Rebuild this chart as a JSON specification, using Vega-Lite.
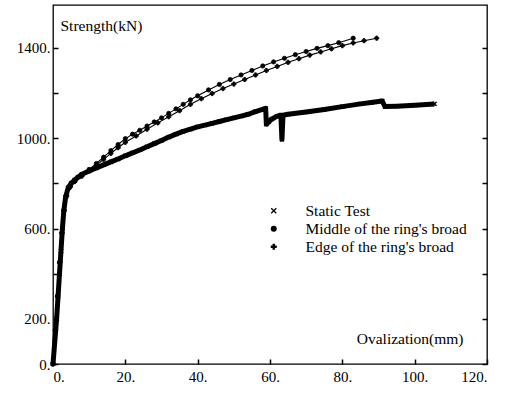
{
  "$schema": "https://vega.github.io/schema/vega-lite/v6.json",
  "autosize": {"type": "none"},
  "padding": {"left": 53, "top": 5, "right": 20, "bottom": 32},
  "width": 434,
  "height": 359,
  "background": "white",
  "config": {
    "font": "Liberation Serif",
    "view": {"stroke": "black", "strokeWidth": 1.3},
    "axis": {"grid": false, "domain": false, "labelFont": "Liberation Serif", "titleFont": "Liberation Serif", "labelColor": "black", "titleColor": "black", "tickColor": "black", "tickWidth": 1.5, "labelFontSize": 15, "titleFontSize": 15.5, "titleFontWeight": "normal"},
    "legend": {"labelFont": "Liberation Serif", "labelFontSize": 15.5, "labelColor": "black", "labelLimit": 0}
  },
  "datasets": {
    "curves": [
      {"series": "Static Test", "x": 0, "y": 0},
      {"series": "Static Test", "x": 0.5, "y": 100},
      {"series": "Static Test", "x": 1.0, "y": 200},
      {"series": "Static Test", "x": 1.4, "y": 300},
      {"series": "Static Test", "x": 1.8, "y": 400},
      {"series": "Static Test", "x": 2.2, "y": 500},
      {"series": "Static Test", "x": 2.6, "y": 600},
      {"series": "Static Test", "x": 3.0, "y": 680},
      {"series": "Static Test", "x": 3.5, "y": 740},
      {"series": "Static Test", "x": 4.2, "y": 780},
      {"series": "Static Test", "x": 5, "y": 800},
      {"series": "Static Test", "x": 6, "y": 815},
      {"series": "Static Test", "x": 7, "y": 828},
      {"series": "Static Test", "x": 8, "y": 840},
      {"series": "Static Test", "x": 10, "y": 855},
      {"series": "Static Test", "x": 12, "y": 868},
      {"series": "Static Test", "x": 14, "y": 882},
      {"series": "Static Test", "x": 16, "y": 895},
      {"series": "Static Test", "x": 18, "y": 908},
      {"series": "Static Test", "x": 20, "y": 922},
      {"series": "Static Test", "x": 22, "y": 935},
      {"series": "Static Test", "x": 24, "y": 948},
      {"series": "Static Test", "x": 26, "y": 962},
      {"series": "Static Test", "x": 28, "y": 976},
      {"series": "Static Test", "x": 30, "y": 990},
      {"series": "Static Test", "x": 32, "y": 1005},
      {"series": "Static Test", "x": 34, "y": 1018},
      {"series": "Static Test", "x": 36, "y": 1030},
      {"series": "Static Test", "x": 38, "y": 1040},
      {"series": "Static Test", "x": 40, "y": 1050},
      {"series": "Static Test", "x": 42, "y": 1058},
      {"series": "Static Test", "x": 44, "y": 1066},
      {"series": "Static Test", "x": 46, "y": 1074},
      {"series": "Static Test", "x": 48, "y": 1082},
      {"series": "Static Test", "x": 50, "y": 1090},
      {"series": "Static Test", "x": 52, "y": 1098},
      {"series": "Static Test", "x": 54, "y": 1106},
      {"series": "Static Test", "x": 56, "y": 1118},
      {"series": "Static Test", "x": 58.8, "y": 1132},
      {"series": "Static Test", "x": 59, "y": 1062},
      {"series": "Static Test", "x": 59.6, "y": 1072},
      {"series": "Static Test", "x": 60.5, "y": 1085},
      {"series": "Static Test", "x": 62, "y": 1098},
      {"series": "Static Test", "x": 63, "y": 1102},
      {"series": "Static Test", "x": 63.3, "y": 995},
      {"series": "Static Test", "x": 63.6, "y": 1102},
      {"series": "Static Test", "x": 65, "y": 1106},
      {"series": "Static Test", "x": 70, "y": 1116},
      {"series": "Static Test", "x": 75, "y": 1127},
      {"series": "Static Test", "x": 80, "y": 1140},
      {"series": "Static Test", "x": 85, "y": 1152},
      {"series": "Static Test", "x": 88, "y": 1158},
      {"series": "Static Test", "x": 91, "y": 1165},
      {"series": "Static Test", "x": 91.8, "y": 1140},
      {"series": "Static Test", "x": 95, "y": 1142},
      {"series": "Static Test", "x": 100, "y": 1146},
      {"series": "Static Test", "x": 105.5, "y": 1152},
      {"series": "Middle of the ring's broad", "x": 0, "y": 0},
      {"series": "Middle of the ring's broad", "x": 0.6, "y": 150},
      {"series": "Middle of the ring's broad", "x": 1.2, "y": 300},
      {"series": "Middle of the ring's broad", "x": 1.8, "y": 450},
      {"series": "Middle of the ring's broad", "x": 2.4, "y": 580},
      {"series": "Middle of the ring's broad", "x": 3.0, "y": 680},
      {"series": "Middle of the ring's broad", "x": 3.6, "y": 740},
      {"series": "Middle of the ring's broad", "x": 4.5, "y": 780},
      {"series": "Middle of the ring's broad", "x": 6, "y": 810},
      {"series": "Middle of the ring's broad", "x": 8, "y": 838},
      {"series": "Middle of the ring's broad", "x": 10, "y": 862},
      {"series": "Middle of the ring's broad", "x": 12, "y": 888},
      {"series": "Middle of the ring's broad", "x": 14, "y": 916},
      {"series": "Middle of the ring's broad", "x": 16, "y": 945},
      {"series": "Middle of the ring's broad", "x": 18, "y": 972},
      {"series": "Middle of the ring's broad", "x": 20, "y": 998},
      {"series": "Middle of the ring's broad", "x": 22, "y": 1018},
      {"series": "Middle of the ring's broad", "x": 24, "y": 1035},
      {"series": "Middle of the ring's broad", "x": 26, "y": 1054},
      {"series": "Middle of the ring's broad", "x": 28, "y": 1072},
      {"series": "Middle of the ring's broad", "x": 30, "y": 1090},
      {"series": "Middle of the ring's broad", "x": 32, "y": 1110},
      {"series": "Middle of the ring's broad", "x": 34, "y": 1130},
      {"series": "Middle of the ring's broad", "x": 36, "y": 1150},
      {"series": "Middle of the ring's broad", "x": 38, "y": 1170},
      {"series": "Middle of the ring's broad", "x": 40, "y": 1188},
      {"series": "Middle of the ring's broad", "x": 43, "y": 1214},
      {"series": "Middle of the ring's broad", "x": 46, "y": 1238},
      {"series": "Middle of the ring's broad", "x": 49, "y": 1260},
      {"series": "Middle of the ring's broad", "x": 52, "y": 1280},
      {"series": "Middle of the ring's broad", "x": 55, "y": 1300},
      {"series": "Middle of the ring's broad", "x": 58, "y": 1320},
      {"series": "Middle of the ring's broad", "x": 61, "y": 1338},
      {"series": "Middle of the ring's broad", "x": 64, "y": 1354},
      {"series": "Middle of the ring's broad", "x": 67, "y": 1370},
      {"series": "Middle of the ring's broad", "x": 70, "y": 1384},
      {"series": "Middle of the ring's broad", "x": 73, "y": 1398},
      {"series": "Middle of the ring's broad", "x": 76, "y": 1410},
      {"series": "Middle of the ring's broad", "x": 79, "y": 1423},
      {"series": "Middle of the ring's broad", "x": 83, "y": 1443},
      {"series": "Edge of the ring's broad", "x": 0, "y": 0},
      {"series": "Edge of the ring's broad", "x": 0.7, "y": 150},
      {"series": "Edge of the ring's broad", "x": 1.3, "y": 300},
      {"series": "Edge of the ring's broad", "x": 1.9, "y": 450},
      {"series": "Edge of the ring's broad", "x": 2.5, "y": 580},
      {"series": "Edge of the ring's broad", "x": 3.1, "y": 680},
      {"series": "Edge of the ring's broad", "x": 3.8, "y": 745},
      {"series": "Edge of the ring's broad", "x": 4.8, "y": 785},
      {"series": "Edge of the ring's broad", "x": 6, "y": 808},
      {"series": "Edge of the ring's broad", "x": 8, "y": 832},
      {"series": "Edge of the ring's broad", "x": 10, "y": 855},
      {"series": "Edge of the ring's broad", "x": 12, "y": 880},
      {"series": "Edge of the ring's broad", "x": 14, "y": 906},
      {"series": "Edge of the ring's broad", "x": 16, "y": 933},
      {"series": "Edge of the ring's broad", "x": 18, "y": 958},
      {"series": "Edge of the ring's broad", "x": 20, "y": 982},
      {"series": "Edge of the ring's broad", "x": 23, "y": 1010},
      {"series": "Edge of the ring's broad", "x": 26, "y": 1040},
      {"series": "Edge of the ring's broad", "x": 29, "y": 1068},
      {"series": "Edge of the ring's broad", "x": 32, "y": 1095},
      {"series": "Edge of the ring's broad", "x": 35, "y": 1122},
      {"series": "Edge of the ring's broad", "x": 38, "y": 1150},
      {"series": "Edge of the ring's broad", "x": 41, "y": 1175},
      {"series": "Edge of the ring's broad", "x": 44, "y": 1198},
      {"series": "Edge of the ring's broad", "x": 47, "y": 1220},
      {"series": "Edge of the ring's broad", "x": 50, "y": 1240},
      {"series": "Edge of the ring's broad", "x": 53, "y": 1260},
      {"series": "Edge of the ring's broad", "x": 56, "y": 1280},
      {"series": "Edge of the ring's broad", "x": 59, "y": 1300},
      {"series": "Edge of the ring's broad", "x": 62, "y": 1318},
      {"series": "Edge of the ring's broad", "x": 65, "y": 1336},
      {"series": "Edge of the ring's broad", "x": 68, "y": 1352},
      {"series": "Edge of the ring's broad", "x": 71, "y": 1368},
      {"series": "Edge of the ring's broad", "x": 74, "y": 1382},
      {"series": "Edge of the ring's broad", "x": 77, "y": 1396},
      {"series": "Edge of the ring's broad", "x": 80, "y": 1410},
      {"series": "Edge of the ring's broad", "x": 83, "y": 1422},
      {"series": "Edge of the ring's broad", "x": 86, "y": 1432},
      {"series": "Edge of the ring's broad", "x": 89.5, "y": 1443}
    ]
  },
  "data": {"name": "curves"},
  "encoding": {
    "x": {"field": "x", "type": "quantitative", "scale": {"domain": [0, 120], "nice": false},
          "axis": {"values": [0, 20, 40, 60, 80, 100, 120], "labelExpr": "datum.value + '.'", "offset": -5, "tickSize": 5, "labelPadding": 5,
                   "title": "Ovalization(mm)", "titleAlign": "right", "titleBaseline": "middle", "titleX": 410, "titleY": -21, "titleAngle": 0}},
    "y": {"field": "y", "type": "quantitative", "scale": {"domain": [0, 1590], "nice": false}}
  },
  "resolve": {"axis": {"y": "independent"}},
  "layer": [
    {
      "transform": [{"filter": "datum.series == 'Static Test'"}],
      "mark": {"type": "line", "color": "black", "strokeWidth": 5, "strokeJoin": "round"},
      "encoding": {
        "y": {"field": "y", "type": "quantitative", "scale": {"domain": [0, 1590], "nice": false},
              "axis": {"orient": "left", "values": [0, 200, 400, 600, 800, 1000, 1200, 1400], "labelExpr": "indexof([0,200,600,1000,1400], datum.value) >= 0 ? datum.value + '.' : ''", "offset": -5, "tickSize": 5, "labelPadding": 3,
                       "title": "Strength(kN)", "titleAngle": 0, "titleAlign": "left", "titleBaseline": "middle", "titleX": 2, "titleY": 20}}
      }
    },
    {
      "transform": [{"filter": "datum.series != 'Static Test'"}],
      "mark": {"type": "line", "color": "black", "strokeWidth": 1.1, "strokeJoin": "round"},
      "encoding": {
        "y": {"field": "y", "type": "quantitative", "scale": {"domain": [0, 1590], "nice": false},
              "axis": {"orient": "right", "values": [0, 200, 400, 600, 800, 1000, 1200, 1400], "labels": false, "title": null, "offset": -5, "tickSize": 5}},
        "detail": {"field": "series"}
      }
    },
    {
      "mark": {"type": "point", "filled": true, "color": "black", "stroke": "black", "strokeWidth": 0.8, "size": 18, "opacity": 1},
      "encoding": {
        "y": {"field": "y", "type": "quantitative", "scale": {"domain": [0, 1590], "nice": false}, "axis": null},
        "shape": {"field": "series", "type": "nominal",
                  "scale": {"domain": ["Static Test", "Middle of the ring's broad", "Edge of the ring's broad"], "range": ["M-1,-0.7L-0.7,-1L0,-0.3L0.7,-1L1,-0.7L0.3,0L1,0.7L0.7,1L0,0.3L-0.7,1L-1,0.7L-0.3,0Z", "circle", "cross"]},
                  "legend": {"title": null, "orient": "none", "legendX": 213, "legendY": 198, "padding": 0, "labelOffset": 24, "rowPadding": 1, "labelLimit": 0, "symbolFillColor": "black", "symbolStrokeColor": "black", "symbolStrokeWidth": 1, "symbolSize": 36}}
      }
    }
  ]
}
